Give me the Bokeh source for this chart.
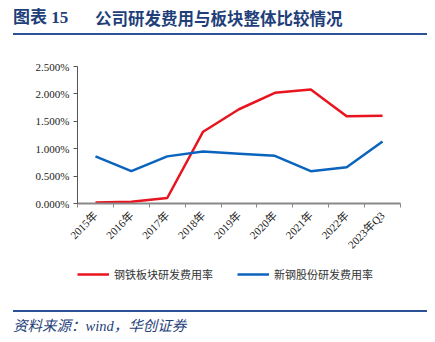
from bokeh.plotting import figure
from bokeh.layouts import column
from bokeh.models import (FixedTicker, PrintfTickFormatter, Range1d, Legend, LegendItem, Div)
from bokeh.embed import file_html
from bokeh.resources import INLINE
import math

# ---- data ----
categories = ["2015年", "2016年", "2017年", "2018年", "2019年", "2020年", "2021年", "2022年", "2023年Q3"]
steel_sector_rd = [0.02, 0.03, 0.10, 1.31, 1.72, 2.02, 2.08, 1.59, 1.60]   # 钢铁板块研发费用率 (%)
xingang_rd = [0.86, 0.59, 0.86, 0.95, 0.91, 0.87, 0.59, 0.66, 1.13]       # 新钢股份研发费用率 (%)
y_ticks = [0.0, 0.5, 1.0, 1.5, 2.0, 2.5]
title_label = "图表 15"
title_text = "公司研发费用与板块整体比较情况"
source_text = "资料来源：wind，华创证券"
series_names = ["钢铁板块研发费用率", "新钢股份研发费用率"]
series_colors = ["#E8141E", "#0A64BE"]

NAVY = "#1F3F7A"
RULE = "#2B5296"
SERIF = "'Liberation Serif', 'Noto Sans CJK SC'"
CJK = "'Noto Sans CJK SC'"

W = 435

# ---- header ----
hdr = Div(width=W, height=40, margin=0, styles={"margin": "0", "padding": "0"}, text=(
    '<div style="position:relative;width:435px;height:40px;margin:0;padding:0;">'
    '<div style="position:absolute;left:13px;top:7px;font-family:\'Liberation Serif\',\'Noto Sans CJK SC\';'
    'font-weight:bold;font-size:17px;line-height:22px;color:%s;white-space:pre;">%s</div>'
    '<div style="position:absolute;left:95px;top:7px;font-family:\'Noto Sans CJK SC\';'
    'font-weight:bold;font-size:16.5px;line-height:22px;color:%s;white-space:pre;">%s</div>'
    '<div style="position:absolute;left:13px;top:33px;width:414px;height:2px;background:%s;"></div>'
    '</div>') % (NAVY, title_label, NAVY, title_text, RULE))

# ---- main chart ----
xs = list(range(len(categories)))
p = figure(width=W, height=222, output_backend="svg", toolbar_location=None,
           x_range=Range1d(-0.5, len(categories) - 0.5), y_range=Range1d(0, 2.5),
           min_border_left=77, min_border_right=35, min_border_top=26, min_border_bottom=59,
           margin=0)
p.outline_line_color = None
p.grid.visible = False

p.line(xs, steel_sector_rd, line_color=series_colors[0], line_width=2.5)
p.line(xs, xingang_rd, line_color=series_colors[1], line_width=2.5)

p.yaxis.ticker = FixedTicker(ticks=y_ticks)
p.yaxis.formatter = PrintfTickFormatter(format="%.3f%%")
p.yaxis.major_label_text_font = SERIF
p.yaxis.major_label_text_font_size = "11px"
p.yaxis.major_label_text_color = "#222222"
p.yaxis.axis_line_color = "#555555"
p.yaxis.major_tick_line_color = "#555555"
p.yaxis.major_tick_in = 0
p.yaxis.major_tick_out = 4
p.yaxis.minor_tick_line_color = None
p.yaxis.major_label_standoff = 4

p.xaxis.ticker = FixedTicker(ticks=xs, minor_ticks=[i - 0.5 for i in range(len(categories) + 1)])
p.xaxis.major_label_overrides = {i: c for i, c in enumerate(categories)}
p.xaxis.major_label_orientation = math.pi / 4
p.xaxis.major_label_text_font = SERIF
p.xaxis.major_label_text_font_size = "11px"
p.xaxis.major_label_text_color = "#222222"
p.xaxis.major_tick_line_color = None
p.xaxis.minor_tick_line_color = "#888888"
p.xaxis.minor_tick_in = 0
p.xaxis.minor_tick_out = 4
p.xaxis.axis_line_color = "#888888"
p.xaxis.axis_line_width = 2
p.xaxis.major_label_standoff = 4

# ---- legend strip (own small figure, frames align with the chart) ----
lg = figure(width=W, height=43, output_backend="svg", toolbar_location=None,
            x_range=Range1d(-0.5, len(categories) - 0.5), y_range=Range1d(0, 2.5),
            min_border_left=77, min_border_right=35, min_border_top=0, min_border_bottom=0,
            margin=0)
lg.axis.visible = False
lg.grid.visible = False
lg.outline_line_color = None
lr1 = lg.line(xs, steel_sector_rd, line_color=series_colors[0], line_width=2.5, visible=False)
lr2 = lg.line(xs, xingang_rd, line_color=series_colors[1], line_width=2.5, visible=False)
legend = Legend(items=[LegendItem(label=series_names[0], renderers=[lr1]),
                       LegendItem(label=series_names[1], renderers=[lr2])],
                orientation="horizontal", location=(0, 23),
                label_text_font=CJK, label_text_font_size="11px", label_text_color="#333333",
                glyph_width=32, glyph_height=14, label_height=14, spacing=24,
                border_line_color=None, background_fill_alpha=0, padding=0, margin=0,
                label_standoff=5, inactive_fill_alpha=0)
lg.add_layout(legend)

# ---- footer ----
ftr = Div(width=W, height=37, margin=0, styles={"margin": "0", "padding": "0"}, text=(
    '<div style="position:relative;width:435px;height:37px;margin:0;padding:0;">'
    '<div style="position:absolute;left:13px;top:5px;width:414px;height:2px;background:%s;"></div>'
    '<div style="position:absolute;left:13px;top:12px;font-family:\'Liberation Serif\',\'Noto Sans CJK SC\';'
    'font-style:italic;font-size:14.5px;line-height:18px;color:%s;white-space:pre;">%s</div>'
    '</div>') % (RULE, NAVY, source_text))

layout = column(hdr, p, lg, ftr, spacing=0, margin=0)
open("out.html", "w").write(file_html(layout, INLINE))
